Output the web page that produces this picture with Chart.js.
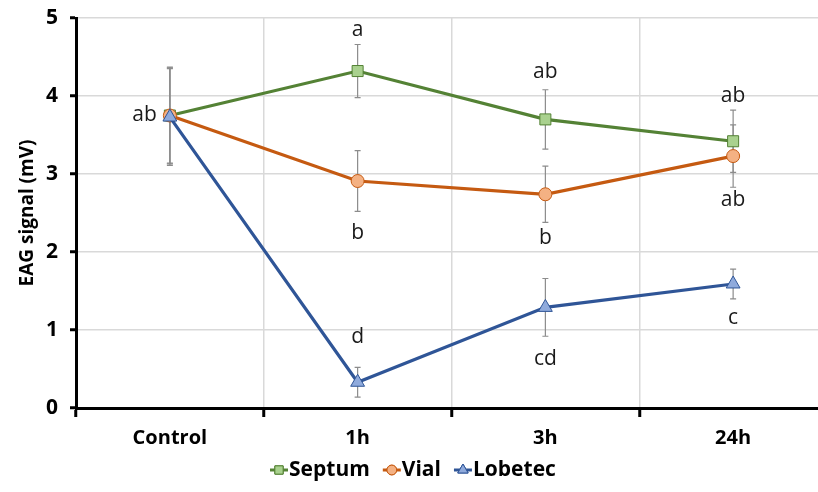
<!doctype html>
<html lang="en">
  <head>
    <title>EAG signal</title>
    <meta charset="utf-8" />
    <style>
      html, body { margin: 0; padding: 0; background: #fff; overflow: hidden; }
      .chart-container { width: 836px; height: 492px; position: relative; }
    </style>
  </head>
  <body>
    <div class="chart-container">
      <canvas id="eag"></canvas>
    </div>

    <script src="https://cdn.jsdelivr.net/npm/chart.js@4.4.1/dist/chart.umd.min.js"></script>
    <script>
      // values
      const categories = ["Control", "1h", "3h", "24h"];
      const yTicks = [0, 1, 2, 3, 4, 5];

      const septum = [3.75, 4.32, 3.70, 3.42];
      const septumErr = [0.61, 0.34, 0.38, 0.40];
      const septumLetters = ["ab", "a", "ab", "ab"];
      const septumLetterY = [3.75, 4.85, 4.31, 4.00];

      const vial = [3.75, 2.91, 2.74, 3.23];
      const vialErr = [0.62, 0.39, 0.36, 0.40];
      const vialLetters = [null, "b", "b", "ab"];
      const vialLetterY = [null, 2.24, 2.18, 2.67];

      const lobetec = [3.73, 0.33, 1.29, 1.59];
      const lobetecErr = [0.62, 0.19, 0.37, 0.19];
      const lobetecLetters = [null, "d", "cd", "c"];
      const lobetecLetterY = [null, 0.91, 0.63, 1.15];

      const FONT = "'Open Sans', 'Liberation Sans', sans-serif";

      const series = [
        { label: "Septum", data: septum, err: septumErr, letters: septumLetters, letterY: septumLetterY,
          line: "#548235", fill: "#a9d18e", style: "rect", radius: 7.8, order: 2 },
        { label: "Vial", data: vial, err: vialErr, letters: vialLetters, letterY: vialLetterY,
          line: "#c55a11", fill: "#f4b183", style: "circle", radius: 6.5, order: 1 },
        { label: "Lobetec", data: lobetec, err: lobetecErr, letters: lobetecLetters, letterY: lobetecLetterY,
          line: "#2f5597", fill: "#8faadc", style: "triangle", radius: 8, order: 0 },
      ];

      const errorBars = {
        id: "errorBars",
        beforeDatasetsDraw(chart) {
          const ctx = chart.ctx;
          const y = chart.scales.y;
          ctx.save();
          ctx.strokeStyle = "#8c8c8c";
          ctx.lineWidth = 1.2;
          series.forEach((s, di) => {
            const meta = chart.getDatasetMeta(di);
            s.data.forEach((v, i) => {
              const px = meta.data[i].x;
              const top = y.getPixelForValue(v + s.err[i]);
              const bot = y.getPixelForValue(v - s.err[i]);
              ctx.beginPath();
              ctx.moveTo(px, top); ctx.lineTo(px, bot);
              ctx.moveTo(px - 3, top); ctx.lineTo(px + 3, top);
              ctx.moveTo(px - 3, bot); ctx.lineTo(px + 3, bot);
              ctx.stroke();
            });
          });
          ctx.restore();
        },
        afterDatasetsDraw(chart) {
          const ctx = chart.ctx;
          const y = chart.scales.y;
          ctx.save();
          ctx.fillStyle = "#1a1a1a";
          ctx.font = "21px " + FONT;
          ctx.textBaseline = "middle";
          series.forEach((s, di) => {
            const meta = chart.getDatasetMeta(di);
            s.letters.forEach((t, i) => {
              if (!t) return;
              const px = meta.data[i].x;
              const py = y.getPixelForValue(s.letterY[i]);
              if (i === 0) {
                ctx.textAlign = "right";
                ctx.fillText(t, px - 13, py);
              } else {
                ctx.textAlign = "center";
                ctx.fillText(t, px, py);
              }
            });
          });
          ctx.restore();
        },
        afterDraw(chart) {
          // Excel-style legend: short line with marker, then bold name
          const ctx = chart.ctx;
          const ly = 470;
          let x = 270;
          ctx.save();
          ctx.font = "bold 21px " + FONT;
          ctx.textBaseline = "middle";
          ctx.textAlign = "left";
          series.forEach((s) => {
            ctx.strokeStyle = s.line;
            ctx.lineWidth = 3;
            ctx.beginPath();
            ctx.moveTo(x, ly); ctx.lineTo(x + 18, ly);
            ctx.stroke();
            ctx.lineWidth = 1;
            ctx.fillStyle = s.fill;
            Chart.helpers.drawPoint(ctx, { pointStyle: s.style, radius: s.radius * 0.75, borderWidth: 1 }, x + 9, ly);
            ctx.fill();
            ctx.stroke();
            ctx.fillStyle = "#000";
            ctx.fillText(s.label, x + 19, ly);
            x += 19 + ctx.measureText(s.label).width + 13;
          });
          ctx.restore();
        },
      };

      const ctx = document.getElementById("eag");
      new Chart(ctx, {
        type: "line",
        data: {
          labels: categories,
          datasets: series.map((s) => ({
            label: s.label,
            data: s.data,
            order: s.order,
            borderColor: s.line,
            borderWidth: 3.2,
            pointStyle: s.style,
            pointRadius: s.radius,
            pointHoverRadius: s.radius,
            pointBackgroundColor: s.fill,
            pointBorderColor: s.line,
            pointBorderWidth: 1,
            tension: 0,
          })),
        },
        plugins: [errorBars],
        options: {
          responsive: true,
          maintainAspectRatio: false,
          animation: false,
          layout: { padding: { top: 18, right: 8, left: 0, bottom: 0 } },
          plugins: {
            legend: { display: false },
            tooltip: { enabled: false },
          },
          scales: {
            x: {
              offset: true,
              grid: { offset: true, color: "#d9d9d9", lineWidth: 1.5, tickColor: "#000", tickWidth: 3, tickLength: 9 },
              border: { color: "#000", width: 3 },
              ticks: { color: "#000", font: { family: FONT, size: 20, weight: "bold" }, padding: 9 },
              afterFit: (s) => { s.height = 84; },
            },
            y: {
              min: 0,
              max: 5,
              afterBuildTicks: (s) => { s.ticks = yTicks.map((v) => ({ value: v })); },
              grid: { color: "#d9d9d9", lineWidth: 1.5, tickColor: "#000", tickWidth: 3, tickLength: 6 },
              border: { color: "#000", width: 3 },
              ticks: { color: "#000", font: { family: FONT, size: 21, weight: "bold" }, padding: 12 },
              title: {
                display: true,
                text: "EAG signal (mV)",
                color: "#000",
                font: { family: FONT, size: 19, weight: "bold" },
                padding: { top: 16, bottom: 0 },
              },
              afterFit: (s) => { s.width = 76; s.paddingTop = 0; s.paddingBottom = 0; },
            },
          },
        },
      });
    </script>
  </body>
</html>
